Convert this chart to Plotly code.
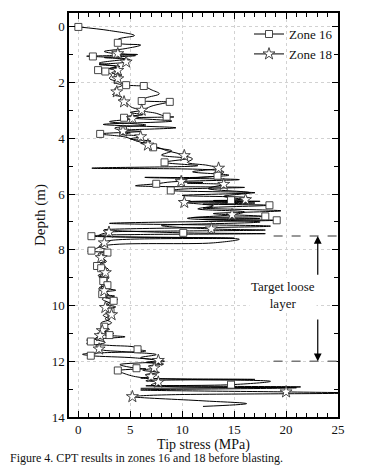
import plotly.graph_objects as go

# ---------------- data ----------------
zone16_depth = [
    0.00, 0.13, 0.31, 0.45,
    0.57, 0.65, 0.78, 0.88,
    0.96, 0.99, 1.03, 1.05,
    1.06, 1.15, 1.30, 1.42,
    1.55, 1.56, 1.58, 1.59,
    1.60, 1.72, 1.85, 1.98,
    2.09, 2.10, 2.11, 2.115,
    2.12, 2.25, 2.40, 2.55,
    2.66, 2.67, 2.68, 2.685,
    2.69, 2.85, 3.00, 3.10,
    3.22, 3.23, 3.245, 3.255,
    3.26, 3.38, 3.50, 3.62,
    3.71, 3.75, 3.78, 3.81,
    3.84, 3.95, 4.08, 4.20,
    4.32, 4.45, 4.60, 4.72,
    4.86, 4.98, 5.07, 5.20,
    5.34, 5.40, 5.48, 5.56,
    5.63, 5.70, 5.76, 5.82,
    5.87, 5.95, 6.05, 6.13,
    6.22, 6.27, 6.32, 6.36,
    6.40, 6.50, 6.60, 6.70,
    6.80, 6.84, 6.88, 6.91,
    6.94, 7.05, 7.15, 7.28,
    7.39, 7.42, 7.45, 7.48,
    7.51, 7.62, 7.75, 7.85,
    8.03, 8.05, 8.07, 8.09,
    8.10, 8.25, 8.40, 8.52,
    8.58, 8.60, 8.62, 8.64,
    8.66, 8.80, 8.92, 9.02,
    9.12, 9.16, 9.20, 9.24,
    9.27, 9.36, 9.45, 9.52,
    9.59, 9.66, 9.72, 9.78,
    9.83, 9.95, 10.05, 10.13,
    10.22, 10.35, 10.50, 10.62,
    10.76, 10.85, 10.93, 11.00,
    11.06, 11.12, 11.18, 11.24,
    11.29, 11.36, 11.43, 11.50,
    11.57, 11.63, 11.70, 11.75,
    11.80, 11.88, 12.00, 12.12,
    12.25, 12.27, 12.29, 12.31,
    12.33, 12.45, 12.58, 12.72,
    12.84, 12.88, 12.92, 12.97,
]
zone16_stress = [
    0.0, 3.0, 5.4, 3.8,
    3.8, 6.0, 4.5, 2.5,
    3.6, 5.7, 3.0, 0.8,
    1.4, 4.5, 2.0, 3.6,
    1.9, 1.6, 2.2, 2.8,
    2.6, 3.2, 3.0, 4.0,
    4.6, 5.0, 5.6, 6.0,
    6.3, 7.0, 7.8, 6.5,
    6.1, 6.8, 7.8, 8.5,
    8.8, 7.0, 6.3, 7.5,
    8.5, 9.2, 7.0, 5.2,
    4.4, 9.0, 2.4, 9.4,
    4.3, 6.0, 4.8, 3.0,
    2.1, 4.5, 5.5, 6.5,
    7.2, 9.0, 8.0, 10.5,
    8.3, 11.5, 1.3, 14.0,
    13.4, 6.4, 15.5, 9.0,
    7.5, 5.5, 16.0, 10.0,
    8.9, 17.0, 10.0, 16.5,
    14.7, 10.5, 17.0, 12.0,
    18.4, 12.0, 19.5, 13.0,
    18.0, 11.0, 17.5, 12.0,
    19.1, 3.0, 18.5, 2.5,
    10.1, 18.0, 6.0, 2.0,
    1.26, 15.5, 13.0, 2.5,
    1.26, 0.9, 1.8, 2.9,
    2.8, 2.0, 2.6, 1.6,
    1.8, 1.6, 2.4, 2.0,
    2.2, 2.6, 1.9, 2.9,
    2.4, 2.1, 3.0, 2.5,
    2.8, 2.0, 3.6, 2.5,
    2.3, 3.5, 2.6, 3.8,
    3.4, 2.7, 3.6, 2.6,
    3.1, 2.4, 3.0, 2.2,
    2.5, 3.0, 2.4, 3.4,
    3.0, 4.5, 2.5, 0.8,
    1.2, 0.8, 3.0, 5.5,
    5.7, 6.5, 2.0, 0.4,
    1.2, 5.5, 8.3, 4.0,
    5.6, 6.5, 5.0, 4.2,
    3.8, 4.5, 6.0, 18.5,
    14.7, 6.5, 21.4, 6.0,
]

zone18_depth = [
    0.96, 1.03, 1.10, 1.18,
    1.26, 1.35, 1.42, 1.50,
    1.56, 1.65, 1.72, 1.80,
    1.86, 1.98, 2.10, 2.22,
    2.33, 2.43, 2.52, 2.60,
    2.69, 2.78, 2.86, 2.93,
    2.99, 3.07, 3.15, 3.22,
    3.29, 3.40, 3.52, 3.63,
    3.74, 3.80, 3.86, 3.90,
    3.94, 4.02, 4.10, 4.17,
    4.24, 4.34, 4.44, 4.53,
    4.62, 4.74, 4.86, 4.97,
    5.07, 5.20, 5.32, 5.45,
    5.55, 5.58, 5.61, 5.63,
    5.65, 5.80, 5.95, 6.08,
    6.20, 6.23, 6.26, 6.28,
    6.30, 6.42, 6.53, 6.64,
    6.74, 6.87, 7.00, 7.13,
    7.25, 7.29, 7.33, 7.35,
    7.37, 7.48, 7.58, 7.67,
    7.75, 7.88, 8.02, 8.15,
    8.28, 8.42, 8.55, 8.70,
    8.82, 8.98, 9.15, 9.30,
    9.47, 9.62, 9.77, 9.92,
    10.07, 10.14, 10.20, 10.27,
    10.33, 10.48, 10.62, 10.76,
    10.90, 10.95, 11.00, 11.04,
    11.08, 11.20, 11.32, 11.44,
    11.56, 11.66, 11.76, 11.87,
    11.97, 12.04, 12.10, 12.17,
    12.24, 12.32, 12.40, 12.48,
    12.55, 12.60, 12.65, 12.70,
    12.75, 12.85, 12.95, 13.03,
    13.10, 13.14, 13.20, 13.24,
    13.27, 13.42, 13.52, 13.62,
]
zone18_stress = [
    3.8, 5.5, 2.5, 5.0,
    4.6, 2.0, 4.0, 3.0,
    3.8, 3.2, 4.2, 3.4,
    3.8, 3.4, 4.2, 3.5,
    3.7, 3.3, 4.2, 4.0,
    4.4, 4.8, 5.0, 5.5,
    6.1, 5.0, 6.2, 4.5,
    5.2, 3.0, 6.5, 3.5,
    4.3, 5.0, 4.0, 5.5,
    6.0, 5.0, 7.0, 6.0,
    6.7, 7.8, 8.5, 9.5,
    10.2, 11.0, 10.5, 12.5,
    13.5, 11.0, 14.5, 10.5,
    9.9, 12.0, 10.5, 13.0,
    14.0, 12.5, 16.5, 14.0,
    16.1, 13.0, 17.5, 11.0,
    10.2, 13.0, 11.5, 16.0,
    14.8, 10.5, 17.5, 8.0,
    12.8, 18.0, 8.0, 3.5,
    2.95, 2.0, 15.0, 3.0,
    2.5, 2.0, 2.8, 1.9,
    2.2, 2.7, 2.0, 2.9,
    2.6, 2.0, 2.9, 2.2,
    2.5, 2.9, 2.3, 3.0,
    2.6, 3.3, 2.8, 3.6,
    3.2, 2.6, 3.2, 2.4,
    2.3, 2.8, 1.8, 2.5,
    2.1, 1.6, 2.6, 1.7,
    2.0, 4.5, 7.5, 6.0,
    7.7, 6.5, 8.2, 6.8,
    7.3, 6.2, 7.8, 6.5,
    7.0, 6.0, 17.0, 6.5,
    7.7, 7.0, 21.0, 6.0,
    20.0, 27.0, 9.0, 6.0,
    5.2, 12.0, 16.2, 12.0,
]

x_ticks = [0, 5, 10, 15, 20, 25]
y_ticks = [0, 2, 4, 6, 8, 10, 12, 14]
layer_top = 7.5
layer_bottom = 12.0
marker_every = 4

# ---------------- figure ----------------
# The page body adds an 8px margin, so the figure is sized to fit the window.
FONT = "Liberation Serif"
W, H = 358, 465
L, T, R, B = 61, 3, 28, 56

fig = go.Figure()

for depth, stress in [(zone16_depth, zone16_stress), (zone18_depth, zone18_stress)]:
    fig.add_trace(go.Scatter(
        x=stress, y=depth, mode="lines",
        line=dict(color="black", width=1, shape="spline", smoothing=1.0),
        showlegend=False, hoverinfo="skip"))

for depth, stress, sym, sz in [(zone16_depth, zone16_stress, "square", 7),
                               (zone18_depth, zone18_stress, "star", 9)]:
    fig.add_trace(go.Scatter(
        x=stress[::marker_every], y=depth[::marker_every], mode="markers",
        marker=dict(symbol=sym, size=sz, color="white",
                    line=dict(color="#333", width=0.9)),
        showlegend=False, hoverinfo="skip"))

for name, sym, sz in [("Zone 16", "square", 7), ("Zone 18", "star", 9)]:
    fig.add_trace(go.Scatter(
        x=[None], y=[None], mode="lines+markers", name=name,
        line=dict(color="black", width=1),
        marker=dict(symbol=sym, size=sz, color="white",
                    line=dict(color="#333", width=0.9))))

# target loose layer
for d in (layer_top, layer_bottom):
    fig.add_shape(type="line", x0=18.8, x1=25, y0=d, y1=d,
                  line=dict(color="#777", width=1.5, dash="dash"))
fig.add_annotation(x=23.05, y=layer_top, ax=23.05, ay=8.95,
                   xref="x", yref="y", axref="x", ayref="y",
                   showarrow=True, arrowhead=2, arrowsize=1.3, arrowwidth=1.2,
                   arrowcolor="black", text="")
fig.add_annotation(x=23.05, y=layer_bottom, ax=23.05, ay=10.45,
                   xref="x", yref="y", axref="x", ayref="y",
                   showarrow=True, arrowhead=2, arrowsize=1.3, arrowwidth=1.2,
                   arrowcolor="black", text="")
fig.add_annotation(x=19.75, y=9.62, xref="x", yref="y", showarrow=False,
                   text="Target loose<br>layer",
                   font=dict(family=FONT, size=13, color="#111"),
                   bgcolor="white")

pw, ph = W - L - R, H - T - B
fig.add_annotation(x=(0 - L) / pw, y=-(450 - (H - B)) / ph,
                   xref="paper", yref="paper", showarrow=False,
                   text="Figure 4. CPT results in zones 16 and 18 before blasting.",
                   font=dict(family=FONT, size=12, color="#111"),
                   xanchor="left", yanchor="middle")

axis_common = dict(
    showline=True, linecolor="black", linewidth=1.5, mirror="allticks",
    ticks="inside", ticklen=6, tickwidth=1, tickcolor="black",
    showgrid=True, gridcolor="#d2d2d2", griddash="dot", gridwidth=1,
    zeroline=False,
    tickfont=dict(family=FONT, size=13, color="#111"),
)

fig.update_layout(
    width=W, height=H,
    margin=dict(l=L, r=R, t=T, b=B),
    paper_bgcolor="white", plot_bgcolor="white",
    font=dict(family=FONT, color="#111"),
    xaxis=dict(range=[-0.9, 25], tickvals=x_ticks,
               minor=dict(dtick=1, ticks="inside", ticklen=4, tickcolor="black", showgrid=False),
               title=dict(text="Tip stress (MPa)", font=dict(family=FONT, size=14), standoff=0),
               **axis_common),
    yaxis=dict(range=[14, -0.5], tickvals=y_ticks,
               minor=dict(dtick=1, ticks="inside", ticklen=4, tickcolor="black", showgrid=False),
               title=dict(text="Depth (m)", font=dict(family=FONT, size=15), standoff=2),
               **axis_common),
    legend=dict(x=1.0, y=0.985, xanchor="right", yanchor="top",
                bgcolor="rgba(0,0,0,0)", font=dict(family=FONT, size=13),
                tracegroupgap=0, itemwidth=30),
)

fig.write_html("out.html")
